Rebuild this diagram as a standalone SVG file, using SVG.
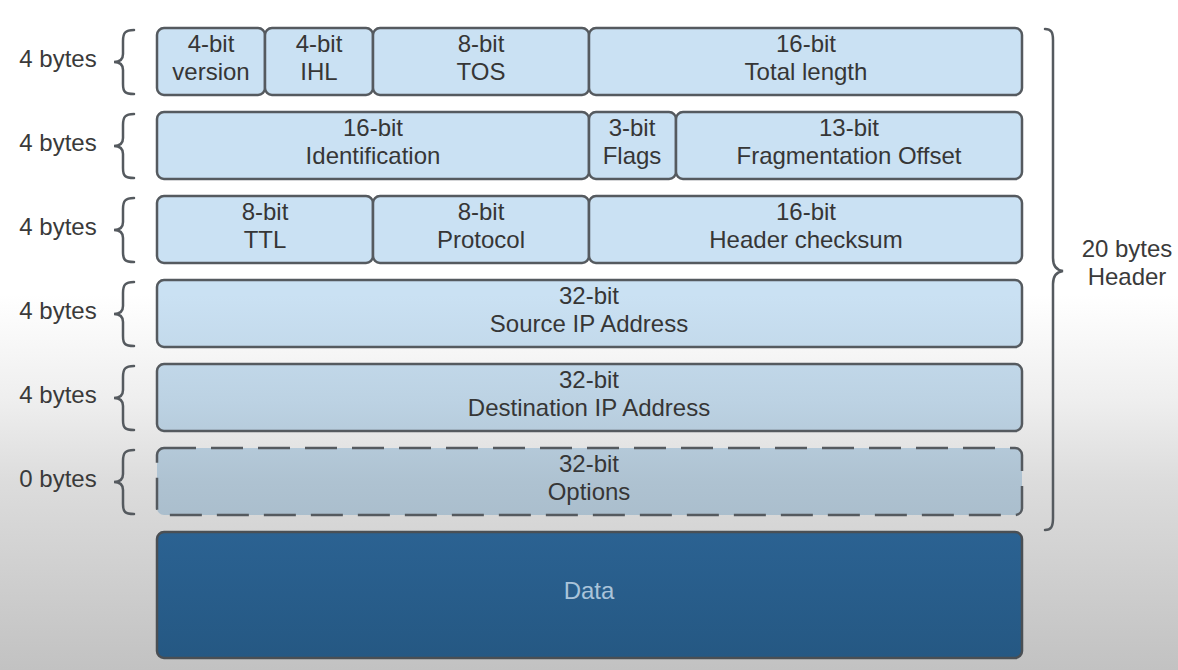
<svg xmlns="http://www.w3.org/2000/svg" width="1178" height="670" viewBox="0 0 1178 670">
<defs>
<linearGradient id="bg" x1="0" y1="0" x2="0" y2="670" gradientUnits="userSpaceOnUse">
<stop offset="0.44" stop-color="#ffffff"/>
<stop offset="0.6" stop-color="#eeeeee"/>
<stop offset="0.72" stop-color="#dcdcdc"/>
<stop offset="1" stop-color="#c2c2c2"/>
</linearGradient>
<linearGradient id="boxfill" x1="0" y1="0" x2="0" y2="670" gradientUnits="userSpaceOnUse">
<stop offset="0.44" stop-color="#cae1f3"/>
<stop offset="0.6" stop-color="#bcd2e3"/>
<stop offset="0.72" stop-color="#aec2d1"/>
<stop offset="1" stop-color="#9aacba"/>
</linearGradient>
<linearGradient id="datafill" x1="0" y1="532" x2="0" y2="658" gradientUnits="userSpaceOnUse">
<stop offset="0" stop-color="#2b6292"/>
<stop offset="1" stop-color="#255883"/>
</linearGradient>
<style>
.cell{fill:url(#boxfill);stroke:#555a5f;stroke-width:2.5}
.dash{stroke-dasharray:32 15}
.data{fill:url(#datafill);stroke:#4a4f54;stroke-width:2.5}
.t{font-family:"Liberation Sans",Arial,sans-serif;font-size:24px;fill:#363636;text-anchor:middle}
.lab{font-family:"Liberation Sans",Arial,sans-serif;font-size:24px;fill:#3a3a3a;text-anchor:middle}
.dt{font-family:"Liberation Sans",Arial,sans-serif;font-size:24px;fill:#aac4da;text-anchor:middle}
.brace{fill:none;stroke:#555a5f;stroke-width:2.5;stroke-linecap:round}
</style>
</defs>
<rect width="1178" height="670" fill="url(#bg)"/>

<g id="row1">
<g id="version"><rect class="cell" x="157" y="28" width="108" height="67" rx="7"/><text class="t" x="211" y="52">4-bit</text><text class="t" x="211" y="80">version</text></g>
<g id="ihl"><rect class="cell" x="265" y="28" width="108" height="67" rx="7"/><text class="t" x="319" y="52">4-bit</text><text class="t" x="319" y="80">IHL</text></g>
<g id="tos"><rect class="cell" x="373" y="28" width="216" height="67" rx="7"/><text class="t" x="481" y="52">8-bit</text><text class="t" x="481" y="80">TOS</text></g>
<g id="totallength"><rect class="cell" x="589" y="28" width="433" height="67" rx="7"/><text class="t" x="806" y="52">16-bit</text><text class="t" x="806" y="80">Total length</text></g>
</g>

<g id="row2">
<g id="identification"><rect class="cell" x="157" y="112" width="432" height="67" rx="7"/><text class="t" x="373" y="136">16-bit</text><text class="t" x="373" y="164">Identification</text></g>
<g id="flags"><rect class="cell" x="589" y="112" width="87" height="67" rx="7"/><text class="t" x="632" y="136">3-bit</text><text class="t" x="632" y="164">Flags</text></g>
<g id="fragoffset"><rect class="cell" x="676" y="112" width="346" height="67" rx="7"/><text class="t" x="849" y="136">13-bit</text><text class="t" x="849" y="164">Fragmentation Offset</text></g>
</g>

<g id="row3">
<g id="ttl"><rect class="cell" x="157" y="196" width="216" height="67" rx="7"/><text class="t" x="265" y="220">8-bit</text><text class="t" x="265" y="248">TTL</text></g>
<g id="protocol"><rect class="cell" x="373" y="196" width="216" height="67" rx="7"/><text class="t" x="481" y="220">8-bit</text><text class="t" x="481" y="248">Protocol</text></g>
<g id="checksum"><rect class="cell" x="589" y="196" width="433" height="67" rx="7"/><text class="t" x="806" y="220">16-bit</text><text class="t" x="806" y="248">Header checksum</text></g>
</g>

<g id="sourceip"><rect class="cell" x="157" y="280" width="865" height="67" rx="7"/><text class="t" x="589" y="304">32-bit</text><text class="t" x="589" y="332">Source IP Address</text></g>
<g id="destip"><rect class="cell" x="157" y="364" width="865" height="67" rx="7"/><text class="t" x="589" y="388">32-bit</text><text class="t" x="589" y="416">Destination IP Address</text></g>
<g id="options"><rect class="cell dash" x="157" y="448" width="865" height="67" rx="7"/><text class="t" x="589" y="472">32-bit</text><text class="t" x="589" y="500">Options</text></g>
<g id="data"><rect class="data" x="157" y="532" width="865" height="126" rx="7"/><text class="dt" x="589" y="599">Data</text></g>

<g id="connectors">
<path class="brace" d="M134,30 C125,30 123,33 123,41 L123,54 C123,59 120,62 114,62 C120,62 123,65 123,70 L123,84 C123,92 125,94 134,94"/>
<path class="brace" d="M134,114 C125,114 123,117 123,125 L123,138 C123,143 120,146 114,146 C120,146 123,149 123,154 L123,168 C123,176 125,178 134,178"/>
<path class="brace" d="M134,198 C125,198 123,201 123,209 L123,222 C123,227 120,230 114,230 C120,230 123,233 123,238 L123,252 C123,260 125,262 134,262"/>
<path class="brace" d="M134,282 C125,282 123,285 123,293 L123,306 C123,311 120,314 114,314 C120,314 123,317 123,322 L123,336 C123,344 125,346 134,346"/>
<path class="brace" d="M134,366 C125,366 123,369 123,377 L123,390 C123,395 120,398 114,398 C120,398 123,401 123,406 L123,420 C123,428 125,430 134,430"/>
<path class="brace" d="M134,450 C125,450 123,453 123,461 L123,474 C123,479 120,482 114,482 C120,482 123,485 123,490 L123,504 C123,512 125,514 134,514"/>
<path class="brace" d="M1045,29 C1051,29 1053,32 1053,40 L1053,258 C1053,265 1056,270 1063,271 C1056,272 1053,277 1053,284 L1053,518 C1053,527 1051,530 1045,530"/>
</g>

<g id="labels">
<text class="lab" x="58" y="67">4 bytes</text>
<text class="lab" x="58" y="151">4 bytes</text>
<text class="lab" x="58" y="235">4 bytes</text>
<text class="lab" x="58" y="319">4 bytes</text>
<text class="lab" x="58" y="403">4 bytes</text>
<text class="lab" x="58" y="487">0 bytes</text>
<text class="lab" x="1127" y="257">20 bytes</text>
<text class="lab" x="1127" y="285">Header</text>
</g>
</svg>
